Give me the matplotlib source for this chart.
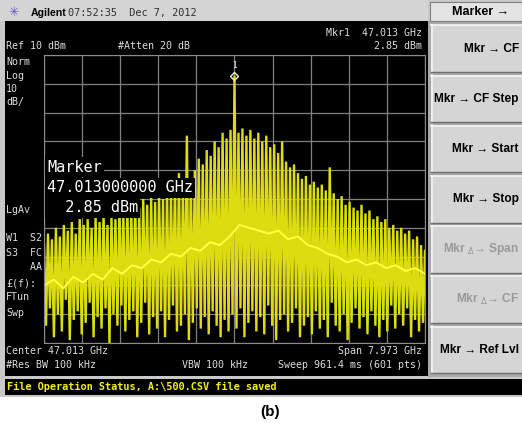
import numpy as np
import matplotlib
matplotlib.use('Agg')
import matplotlib.pyplot as plt
from matplotlib.patches import Rectangle

# analyzer settings
center_ghz = 47.013
span_ghz = 7.973
ref_dbm = 10.0
db_div = 10.0
mkr_ghz = 47.013
mkr_dbm = 2.85

# spike tops across the sweep (dBm), left to right
peak_dbm = [-56, -52, -54, -50, -53, -49, -51, -48, -52, -47,
            -49, -47, -50, -46, -48, -45, -49, -46, -47, -44,
            -45, -42, -44, -41, -43, -40, -42, -39, -41, -38,
            -40, -36, -38, -34, -31, -36, -18, -33,
            -30, -26, -28, -23, -25, -20, -22, -17, -19, -16,
            2.85,
            -17, -15.5, -18, -16, -19, -17, -20, -18, -22, -21, -24,
            -20,
            -27, -29, -28, -31, -33, -32, -35, -34, -36, -35,
            -37,
            -29,
            -38, -40, -39, -42, -41, -43, -44, -42,
            -45, -44, -47, -46, -48, -47, -50, -49, -51, -50, -52, -51, -54, -53, -56, -58]

# valleys between spikes (dBm)
trough_dbm = [-84, -78, -88, -80, -86, -75, -89, -82, -79, -87,
              -83, -76, -88, -81, -85, -78, -90, -80, -84, -77,
              -86, -82, -79, -88, -83, -76, -87, -81, -85, -79,
              -88, -82, -77, -86, -84, -80, -89, -83, -78, -85,
              -81, -87, -79, -84, -88, -82, -86, -80, -85, -78,
              -88, -83, -79, -86, -81, -87, -77, -84, -89, -82,
              -80, -86, -83, -78, -88, -84, -81, -87, -79, -85,
              -82, -88, -76, -84, -86, -80, -89, -83, -78, -85,
              -81, -87, -79, -84, -88, -82, -86, -77, -85, -80,
              -84, -78, -88, -82, -86, -83]

# bright averaged line through the middle of the trace (dBm)
mid_dbm = [-70, -68, -71, -67, -69, -66, -68, -64, -66, -63,
           -64, -61, -62, -59, -60, -57, -58, -55, -56, -53,
           -49, -50, -51, -52, -51, -54, -53, -56, -57, -59,
           -60, -62, -61, -63, -62, -64, -63, -65, -64, -66]

left_labels = [(62, 'Norm'), (76, 'Log'), (89, '10'), (102, 'dB/'), (210, 'LgAv'),
               (238, 'W1  S2'), (253, 'S3  FC'), (267, '    AA'), (283, '£(f):'),
               (297, 'FTun'), (313, 'Swp')]

softkeys = [('Mkr → CF', True), ('Mkr → CF Step', True),
            ('Mkr → Start', True), ('Mkr → Stop', True),
            ('Mkr $_\\Delta$→ Span', False), ('Mkr $_\\Delta$→ CF', False),
            ('Mkr → Ref Lvl', True)]

W, H = 522, 423
fig = plt.figure(figsize=(W / 100, H / 100), dpi=100)
fig.patch.set_facecolor('white')

bg = fig.add_axes([0, 0, 1, 1])
bg.set_xlim(0, W)
bg.set_ylim(H, 0)
bg.axis('off')


def box(x0, y0, x1, y1, color, ec='none', lw=0):
    bg.add_patch(Rectangle((x0, y0), x1 - x0, y1 - y0, facecolor=color,
                           edgecolor=ec, linewidth=lw))


mono = 'DejaVu Sans Mono'
sans = ['Liberation Sans', 'DejaVu Sans']
scr = '#dcdcdc'

# instrument frame
box(0, 0, W, 397, '#c9c9c9')
box(0, 0, 428, 21, '#d4d4d4')
box(5, 21, 428, 376, 'black')
box(5, 379, W, 395, 'black')
box(428, 21, W, 377, '#a9a9a9')

# title line
bg.text(14, 12, '✳', color='#6a5acd', fontsize=9, ha='center', va='center',
        family=['DejaVu Sans'])
bg.text(31, 13, 'Agilent', color='black', fontsize=7.6, fontweight='bold',
        family=sans, va='center')
bg.text(68, 13, '07:52:35  Dec 7, 2012', color='#303030', fontsize=7.4,
        family=mono, va='center')

# soft key panel
box(430, 2, W, 21, '#e4e4e4', ec='#808080', lw=0.8)
bg.text(452, 12, 'Marker →', fontsize=9, fontweight='bold', family=sans,
        va='center', color='black')
for k, (lab, on) in enumerate(softkeys):
    t = 25 + k * 50.2
    box(431, t, W, t + 47, '#d5d5d5')
    bg.plot([431, W], [t + 0.5, t + 0.5], color='#f4f4f4', lw=1.2)
    bg.plot([431.5, 431.5], [t, t + 47], color='#f4f4f4', lw=1.2)
    bg.plot([431, W], [t + 47, t + 47], color='#6e6e6e', lw=1)
    bg.text(519, t + 23.5, lab, fontsize=8.6, fontweight='bold', family=sans,
            va='center', ha='right', color='black' if on else '#9a9a9a')

# screen annotations
bg.text(6, 46, 'Ref 10 dBm', color=scr, fontsize=7.2, family=mono, va='center')
bg.text(118, 46, '#Atten 20 dB', color=scr, fontsize=7.2, family=mono, va='center')
bg.text(422, 33, 'Mkr1  47.013 GHz', color=scr, fontsize=7.2, family=mono,
        va='center', ha='right')
bg.text(422, 46, '2.85 dBm', color=scr, fontsize=7.2, family=mono,
        va='center', ha='right')
for y, lab in left_labels:
    bg.text(6, y, lab, color=scr, fontsize=7.2, family=mono, va='center')
bg.text(6, 351, 'Center 47.013 GHz', color=scr, fontsize=7.2, family=mono, va='center')
bg.text(422, 351, 'Span 7.973 GHz', color=scr, fontsize=7.2, family=mono,
        va='center', ha='right')
bg.text(6, 365, '#Res BW 100 kHz', color=scr, fontsize=7.2, family=mono, va='center')
bg.text(182, 365, 'VBW 100 kHz', color=scr, fontsize=7.2, family=mono, va='center')
bg.text(422, 365, 'Sweep 961.4 ms (601 pts)', color=scr, fontsize=7.2,
        family=mono, va='center', ha='right')
bg.text(7, 387, 'File Operation Status, A:\\500.CSV file saved', color='#f2f000',
        fontsize=7.4, fontweight='bold', family=mono, va='center')
bg.text(270, 412, '(b)', fontsize=11, fontweight='bold', family=sans,
        ha='center', va='center', color='black')

# trace window
ax = fig.add_axes([44 / W, 1 - 343 / H, 381 / W, 288 / H])
f0 = center_ghz - span_ghz / 2
f1 = center_ghz + span_ghz / 2
bot = ref_dbm - 10 * db_div
ax.set_facecolor('black')
ax.set_xlim(f0, f1)
ax.set_ylim(bot, ref_dbm)
ax.set_xticks(np.linspace(f0, f1, 11))
ax.set_yticks(np.linspace(bot, ref_dbm, 11))
ax.tick_params(length=0, labelbottom=False, labelleft=False)
ax.grid(True, color='#808080', lw=0.9)
ax.set_axisbelow(True)
for s in ax.spines.values():
    s.set_color('#8c8c8c')

pk_f = np.linspace(f0, f1, len(peak_dbm))
lo_f = (pk_f[:-1] + pk_f[1:]) / 2
tr_f = np.empty(len(pk_f) + len(lo_f))
tr_y = np.empty(len(pk_f) + len(lo_f))
tr_f[0::2] = pk_f
tr_f[1::2] = lo_f
tr_y[0::2] = peak_dbm
tr_y[1::2] = trough_dbm
ax.plot(tr_f, tr_y, color='#dcdc10', lw=1.7, solid_joinstyle='miter')
ax.plot(np.linspace(f0, f1, len(mid_dbm)), mid_dbm, color='#ffff40', lw=1.4)

ax.plot(mkr_ghz, mkr_dbm, marker='D', mfc='none', mec='#f4f4c8', ms=4.5, mew=1)
ax.annotate('1', (mkr_ghz, mkr_dbm), xytext=(0, 4), textcoords='offset points',
            ha='center', va='bottom', color='#f0f0f0', fontsize=5.5, family=mono)

# marker readout box on top of the trace
ov = fig.add_axes([0, 0, 1, 1], zorder=5)
ov.set_xlim(0, W)
ov.set_ylim(H, 0)
ov.axis('off')
ov.patch.set_alpha(0)
for y, lab in [(167, 'Marker'), (188, '47.013000000 GHz'), (208, '  2.85 dBm')]:
    ov.text(47, y, lab, color='white', fontsize=11, family=mono, va='center',
            bbox=dict(facecolor='black', edgecolor='none', pad=1.5))

fig.savefig('out.png', dpi=100)
